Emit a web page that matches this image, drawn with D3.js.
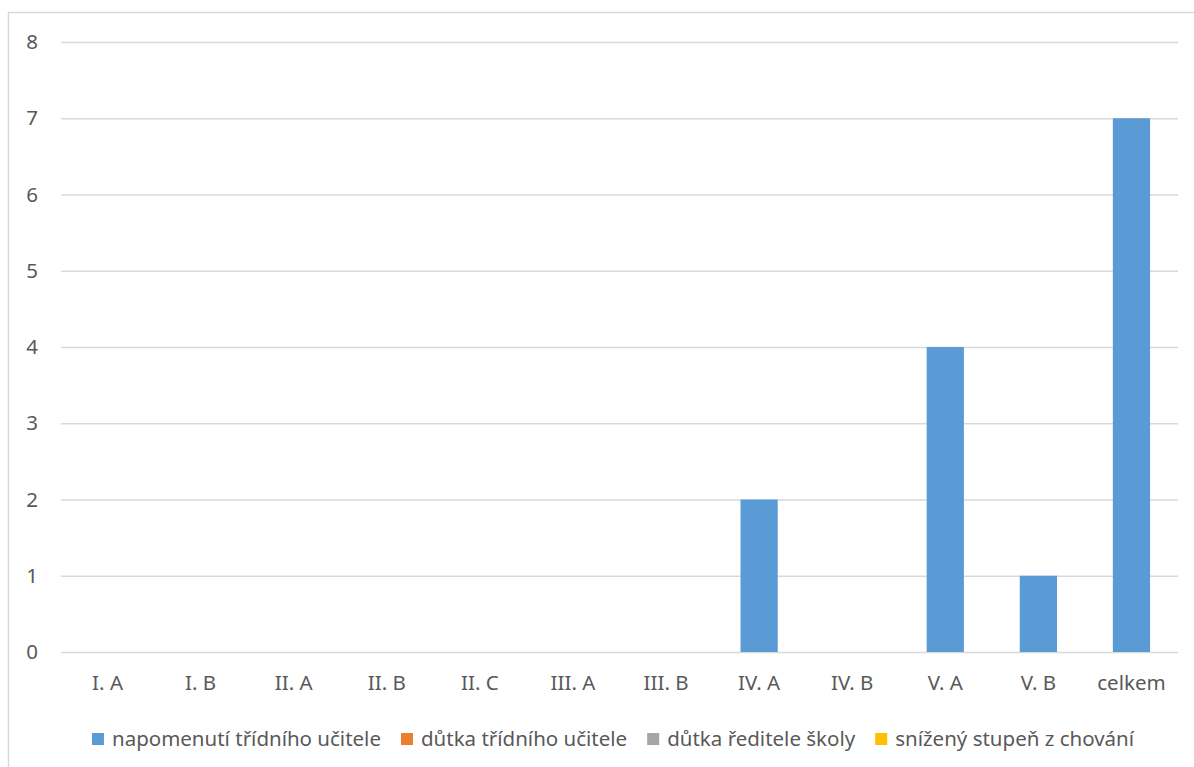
<!DOCTYPE html>
<html>
<head>
<meta charset="utf-8">
<script src="https://cdn.jsdelivr.net/npm/d3@7"></script>
<style>
  html, body { margin: 0; padding: 0; background: #fff; }
  svg { display: block; }
</style>
</head>
<body>
<script>
// Chart data
const categories = ["I. A", "I. B", "II. A", "II. B", "II. C", "III. A", "III. B", "IV. A", "IV. B", "V. A", "V. B", "celkem"];
const seriesNames = ["napomenutí třídního učitele", "důtka třídního učitele", "důtka ředitele školy", "snížený stupeň z chování"];
const napomenuti = [0, 0, 0, 0, 0, 0, 0, 2, 0, 4, 1, 7];
const dutkaTridniho = [0, 0, 0, 0, 0, 0, 0, 0, 0, 0, 0, 0];
const dutkaReditele = [0, 0, 0, 0, 0, 0, 0, 0, 0, 0, 0, 0];
const snizenyStupen = [0, 0, 0, 0, 0, 0, 0, 0, 0, 0, 0, 0];
const yTicks = [0, 1, 2, 3, 4, 5, 6, 7, 8];
const colors = ["#5B9BD5", "#ED7D31", "#A5A5A5", "#FFC000"];

const width = 1194, height = 767;
const margin = { top: 42, right: 16, bottom: 115, left: 61 };
const plotWidth = width - margin.left - margin.right;
const plotHeight = height - margin.top - margin.bottom;
const textColor = "#595959";
const font = "'Noto Sans', 'Open Sans', sans-serif";
const fontSize = "20.5px";

const seriesValues = [napomenuti, dutkaTridniho, dutkaReditele, snizenyStupen];
const rows = categories.map((c, i) => {
    const row = { category: c };
    seriesNames.forEach((s, j) => row[s] = seriesValues[j][i]);
    return row;
});
const stacked = d3.stack().keys(seriesNames)(rows);

const svg = d3.select("body").append("svg")
    .attr("width", width)
    .attr("height", height)
    .style("font-family", font);

// chart frame
svg.append("rect")
    .attr("x", 8.5)
    .attr("y", 12.5)
    .attr("width", width + 10)
    .attr("height", height + 10)
    .attr("fill", "none")
    .attr("stroke", "#D9D9D9")
    .attr("stroke-width", 1.5);

const xScale = d3.scaleBand()
    .domain(categories)
    .range([0, plotWidth])
    .paddingInner(0.6)
    .paddingOuter(0.3);

const yScale = d3.scaleLinear()
    .domain([0, 8])
    .range([plotHeight, 0]);

const plot = svg.append("g")
    .attr("transform", `translate(${margin.left},${margin.top})`);

// gridlines + y labels
const yAxis = d3.axisLeft(yScale)
    .tickValues(yTicks)
    .tickSize(-plotWidth)
    .tickPadding(23)
    .tickFormat(d3.format("d"));

plot.append("g")
    .call(yAxis)
    .call(g => g.select(".domain").remove())
    .call(g => g.selectAll(".tick line").attr("stroke", "#D9D9D9").attr("stroke-width", 1.5))
    .call(g => g.selectAll(".tick text")
        .attr("fill", textColor)
        .style("font-size", fontSize)
        .style("font-family", font));

// bars
plot.append("g")
    .selectAll("g")
    .data(stacked)
    .join("g")
    .attr("fill", (d, i) => colors[i])
    .selectAll("rect")
    .data(d => d.filter(p => p[1] - p[0] > 0))
    .join("rect")
    .attr("x", d => xScale(d.data.category))
    .attr("y", d => yScale(d[1]))
    .attr("width", xScale.bandwidth())
    .attr("height", d => yScale(d[0]) - yScale(d[1]));

// x labels
const xAxis = d3.axisBottom(xScale).tickSize(0).tickPadding(23);
plot.append("g")
    .attr("transform", `translate(0,${plotHeight})`)
    .call(xAxis)
    .call(g => g.select(".domain").remove())
    .call(g => g.selectAll(".tick text")
        .attr("fill", textColor)
        .style("font-size", fontSize)
        .style("font-family", font));

// legend
const legend = svg.append("g").style("font-size", fontSize);
const items = legend.selectAll("g")
    .data(seriesNames)
    .join("g");
items.append("rect")
    .attr("width", 12)
    .attr("height", 12)
    .attr("y", -6)
    .attr("fill", (d, i) => colors[i]);
items.append("text")
    .attr("x", 20)
    .attr("dy", "0.35em")
    .attr("fill", textColor)
    .text(d => d);

let xPos = 0;
items.each(function () {
    d3.select(this).attr("transform", `translate(${xPos},0)`);
    xPos += 20 + this.querySelector("text").getComputedTextLength() + 20;
});
const legendWidth = xPos - 20;
legend.attr("transform", `translate(${613 - legendWidth / 2},739)`);
</script>
</body>
</html>
